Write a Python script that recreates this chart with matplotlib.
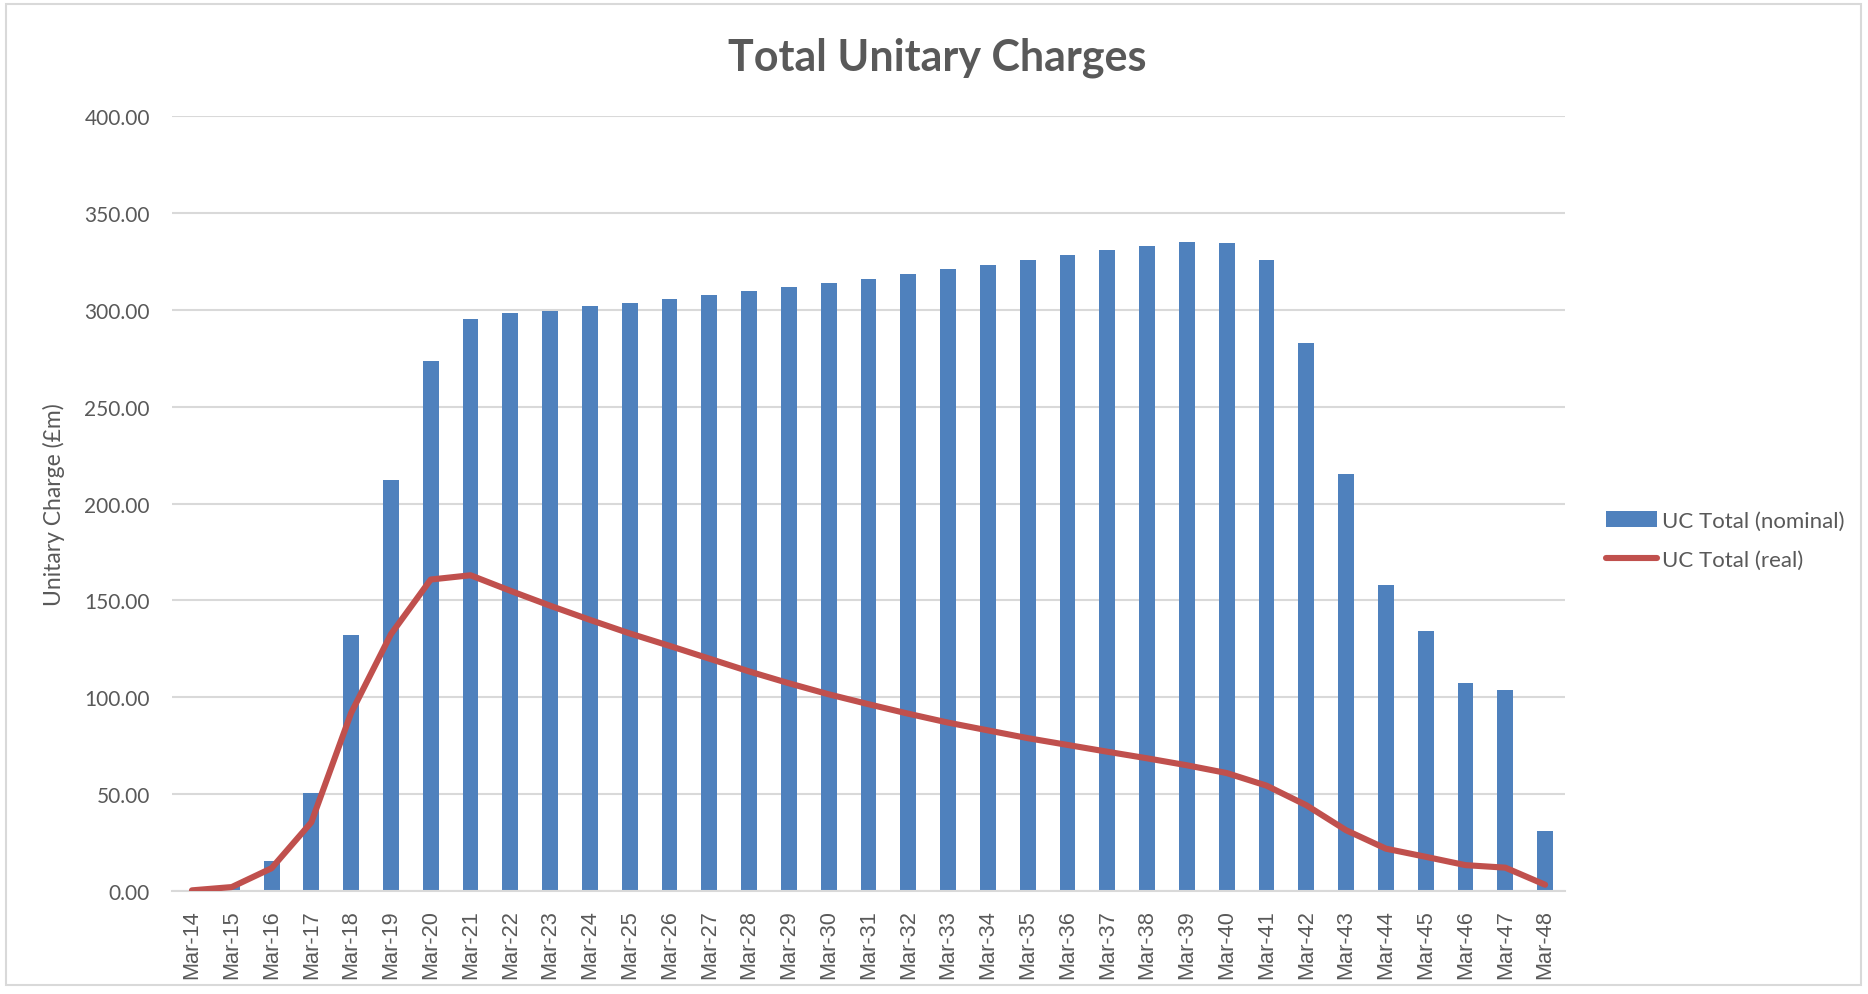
import matplotlib.pyplot as plt
import numpy as np
from matplotlib.patches import Rectangle

# categories (financial year ends)
years = ["Mar-14", "Mar-15", "Mar-16", "Mar-17", "Mar-18", "Mar-19", "Mar-20",
         "Mar-21", "Mar-22", "Mar-23", "Mar-24", "Mar-25", "Mar-26", "Mar-27",
         "Mar-28", "Mar-29", "Mar-30", "Mar-31", "Mar-32", "Mar-33", "Mar-34",
         "Mar-35", "Mar-36", "Mar-37", "Mar-38", "Mar-39", "Mar-40", "Mar-41",
         "Mar-42", "Mar-43", "Mar-44", "Mar-45", "Mar-46", "Mar-47", "Mar-48"]

# UC total, nominal (bars)
uc_nominal = [0.5, 3.0, 15.8, 50.5, 132.0, 212.0, 273.5, 295.0, 298.0, 299.5,
              301.7, 303.5, 305.4, 307.3, 309.5, 311.5, 313.5, 315.8, 318.2,
              320.7, 323.2, 325.6, 328.0, 330.5, 333.0, 335.0, 334.3, 325.5,
              282.8, 215.0, 158.0, 134.0, 107.5, 104.0, 31.2]

# UC total, real (line)
uc_real = [0.5, 2.2, 11.9, 35.6, 92.0, 132.6, 160.8, 163.0, 155.0, 147.3,
           140.0, 133.0, 126.6, 120.0, 113.4, 107.3, 101.6, 96.5, 91.6, 87.0,
           83.0, 79.0, 75.5, 72.0, 68.6, 65.0, 61.0, 54.5, 44.4, 31.5, 22.0,
           17.8, 13.5, 12.2, 3.4]

bar_color = "#4F81BD"
line_color = "#C0504D"
text_color = "#595959"
grid_color = "#D9D9D9"

plt.rcParams['font.family'] = ['Lato', 'DejaVu Sans']

fig = plt.figure(figsize=(18.68, 9.95), dpi=100)
ax = fig.add_axes([0.0921, 0.1032, 0.7457, 0.7795])

x = np.arange(len(years))
bars = ax.bar(x, uc_nominal, width=0.4, color=bar_color, zorder=2,
              label="UC Total (nominal)")
line, = ax.plot(x, uc_real, color=line_color, linewidth=4.4, zorder=3,
                solid_joinstyle='round', solid_capstyle='round',
                label="UC Total (real)")

ax.set_xlim(-0.5, len(years) - 0.5)
ax.set_ylim(0, 400)
ax.set_yticks(np.arange(0, 401, 50))
ax.set_yticklabels([f"{v:.2f}" for v in np.arange(0, 401, 50)])
ax.set_xticks(x)
ax.set_xticklabels(years, rotation=90)

ax.grid(axis='y', color=grid_color, linewidth=1.5, zorder=0)
for s in ['top', 'right', 'left']:
    ax.spines[s].set_visible(False)
ax.spines['bottom'].set_color(grid_color)
ax.spines['bottom'].set_linewidth(1.5)
ax.tick_params(axis='both', length=0, colors=text_color)
ax.tick_params(axis='y', labelsize=15, pad=16)
ax.tick_params(axis='x', pad=13, labelsize=15.7)
for lab in ax.get_xticklabels():
    lab.set_fontfamily(['Liberation Sans', 'DejaVu Sans'])
    lab.set_fontsize(15.7)

ax.set_ylabel("Unitary Charge (£m)", fontsize=16.5, color=text_color, labelpad=14)
fig.text(0.502, 0.929, "Total Unitary Charges", ha='center', va='baseline',
         fontsize=31, fontweight='bold', color=text_color)

fig.legend(handles=[bars, line], loc='center left', bbox_to_anchor=(0.854, 0.456),
           frameon=False, fontsize=16, handlelength=2.3, handletextpad=0.2,
           labelspacing=0.85, borderpad=0, labelcolor=text_color)

# chart border
fig.patches.append(Rectangle((0.0032, 0.009), 0.9931, 0.986, transform=fig.transFigure,
                             fill=False, edgecolor=grid_color, linewidth=1.5))

fig.savefig("out.png", dpi=100)
